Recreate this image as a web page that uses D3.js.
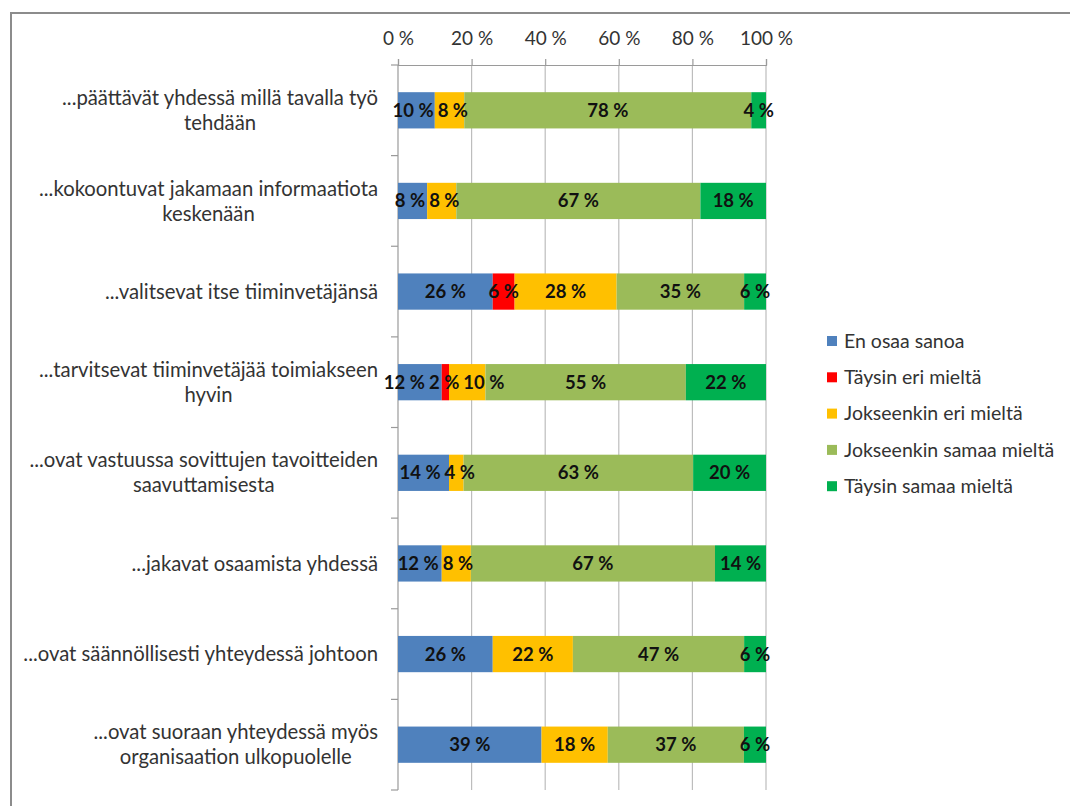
<!DOCTYPE html>
<html>
<head>
<meta charset="utf-8">
<script src="https://cdn.jsdelivr.net/npm/d3@7"></script>
<style>
  html, body { margin: 0; padding: 0; background: #fff; }
  svg { display: block; }
</style>
</head>
<body>
<svg id="chart" width="1070" height="806"></svg>
<script>
// Statements (each category label split into its lines)
const categories = [
  ["...päättävät yhdessä millä tavalla työ", "tehdään"],
  ["...kokoontuvat jakamaan informaatiota", "keskenään"],
  ["...valitsevat itse tiiminvetäjänsä"],
  ["...tarvitsevat tiiminvetäjää toimiakseen", "hyvin"],
  ["...ovat vastuussa sovittujen tavoitteiden", "saavuttamisesta"],
  ["...jakavat osaamista yhdessä"],
  ["...ovat säännöllisesti yhteydessä johtoon"],
  ["...ovat suoraan yhteydessä myös", "organisaation ulkopuolelle"]
];

// Response options, in stacking order
const seriesNames = [
  "En osaa sanoa",
  "Täysin eri mieltä",
  "Jokseenkin eri mieltä",
  "Jokseenkin samaa mieltä",
  "Täysin samaa mieltä"
];
const seriesColors = ["#4F81BD", "#FF0000", "#FFC000", "#9BBB59", "#00B050"];

// Share of answers (%) per statement, one array per response option
const enOsaa        = [10,  8, 26, 12, 14, 12, 26, 39];
const taysinEri     = [ 0,  0,  6,  2,  0,  0,  0,  0];
const jokseenkinEri = [ 8,  8, 28, 10,  4,  8, 22, 18];
const jokseenkinSam = [78, 67, 35, 55, 63, 67, 47, 37];
const taysinSamaa   = [ 4, 18,  6, 22, 20, 14,  6,  6];

const xTicks = [0, 0.2, 0.4, 0.6, 0.8, 1];

const seriesValues = [enOsaa, taysinEri, jokseenkinEri, jokseenkinSam, taysinSamaa];
const rows = categories.map((c, i) => {
  const r = { idx: i };
  seriesNames.forEach((s, j) => { r[s] = seriesValues[j][i]; });
  return r;
});

const svg = d3.select("#chart");
const font = "Lato, 'Open Sans', sans-serif";

// Outer frame
svg.append("rect")
  .attr("x", 11).attr("y", 13)
  .attr("width", 1100).attr("height", 850)
  .attr("fill", "none")
  .attr("stroke", "#8c8c8c")
  .attr("stroke-width", 2);

const plot = { left: 398, right: 766, top: 65, bottom: 790 };

const x = d3.scaleLinear().domain([0, 1]).range([plot.left, plot.right]);
const y = d3.scaleBand()
  .domain(d3.range(categories.length))
  .range([plot.top, plot.bottom])
  .paddingInner(0.6)
  .paddingOuter(0.3);

// Stack normalised to 100 %
const stack = d3.stack().keys(seriesNames).offset(d3.stackOffsetExpand);
const stacked = stack(rows);

// Vertical gridlines
svg.append("g")
  .selectAll("line")
  .data(xTicks.slice(1))
  .join("line")
  .attr("x1", d => x(d)).attr("x2", d => x(d))
  .attr("y1", plot.top).attr("y2", plot.bottom)
  .attr("stroke", "#bdbdbd")
  .attr("stroke-width", 1.2);

// Top value axis
const xAxis = d3.axisTop(x)
  .tickValues(xTicks)
  .tickSize(6)
  .tickPadding(14)
  .tickFormat(d => Math.round(d * 100) + " %");
const gx = svg.append("g")
  .attr("transform", `translate(0,${plot.top})`)
  .call(xAxis);
gx.select(".domain").attr("stroke", "#9a9a9a").attr("stroke-width", 1.2);
gx.selectAll(".tick line").attr("stroke", "#9a9a9a").attr("stroke-width", 1.2);
gx.selectAll(".tick text")
  .attr("font-family", font)
  .attr("font-size", 19)
  .attr("fill", "#333");

// Left category axis line and boundary ticks
const boundaries = d3.range(categories.length + 1).map(i => plot.top + i * y.step());
svg.append("line")
  .attr("x1", plot.left).attr("x2", plot.left)
  .attr("y1", plot.top).attr("y2", plot.bottom)
  .attr("stroke", "#9a9a9a").attr("stroke-width", 1.2);
svg.append("g")
  .selectAll("line")
  .data(boundaries)
  .join("line")
  .attr("x1", plot.left - 7).attr("x2", plot.left)
  .attr("y1", d => d).attr("y2", d => d)
  .attr("stroke", "#9a9a9a").attr("stroke-width", 1.2);

// Stacked bars
const layers = svg.append("g")
  .selectAll("g")
  .data(stacked)
  .join("g")
  .attr("fill", (d, i) => seriesColors[i]);

layers.selectAll("rect")
  .data(d => d.filter(p => p[1] - p[0] > 0))
  .join("rect")
  .attr("x", p => x(p[0]))
  .attr("width", p => x(p[1]) - x(p[0]))
  .attr("y", p => y(p.data.idx))
  .attr("height", y.bandwidth());

// Value labels, centred on segments and nudged apart where they collide
const labelGroup = svg.append("g");
rows.forEach((row, i) => {
  const labels = [];
  stacked.forEach(layer => {
    const p = layer[i];
    const v = row[layer.key];
    if (v > 0) {
      const t = labelGroup.append("text")
        .attr("y", y(i) + y.bandwidth() / 2)
        .attr("dy", "0.35em")
        .attr("text-anchor", "middle")
        .attr("font-family", font)
        .attr("font-weight", "bold")
        .attr("font-size", 18.5)
        .attr("fill", "#111")
        .text(v + " %");
      labels.push({ t, cx: x((p[0] + p[1]) / 2), w: t.node().getComputedTextLength() });
    }
  });
  const gap = 4;
  for (let iter = 0; iter < 30; iter++) {
    for (let k = 0; k < labels.length - 1; k++) {
      const a = labels[k], b = labels[k + 1];
      const ov = (a.cx + a.w / 2 + gap) - (b.cx - b.w / 2);
      if (ov > 0) { a.cx -= ov / 2; b.cx += ov / 2; }
    }
  }
  labels.forEach(l => l.t.attr("x", l.cx));
});

// Category labels: block right-aligned at the axis, lines centred within block
const labelRight = 378;
const lineHeight = 25;
categories.forEach((lines, i) => {
  const g = svg.append("g");
  const texts = lines.map(l => g.append("text")
    .attr("font-family", font)
    .attr("font-size", 20.3)
    .attr("fill", "#333")
    .attr("text-anchor", "middle")
    .text(l));
  const maxW = d3.max(texts, t => t.node().getComputedTextLength());
  const cx = labelRight - maxW / 2;
  const cy = y(i) + y.bandwidth() / 2;
  texts.forEach((t, k) => {
    t.attr("x", cx)
     .attr("y", cy + (k - (lines.length - 1) / 2) * lineHeight)
     .attr("dy", "0.35em");
  });
});

// Legend
const legend = svg.append("g");
seriesNames.forEach((s, i) => {
  const ly = 341 + i * 36.3;
  legend.append("rect")
    .attr("x", 827).attr("y", ly - 5)
    .attr("width", 10).attr("height", 10)
    .attr("fill", seriesColors[i]);
  legend.append("text")
    .attr("x", 844).attr("y", ly)
    .attr("dy", "0.35em")
    .attr("font-family", font)
    .attr("font-size", 19.5)
    .attr("fill", "#333")
    .text(s);
});
</script>
</body>
</html>
